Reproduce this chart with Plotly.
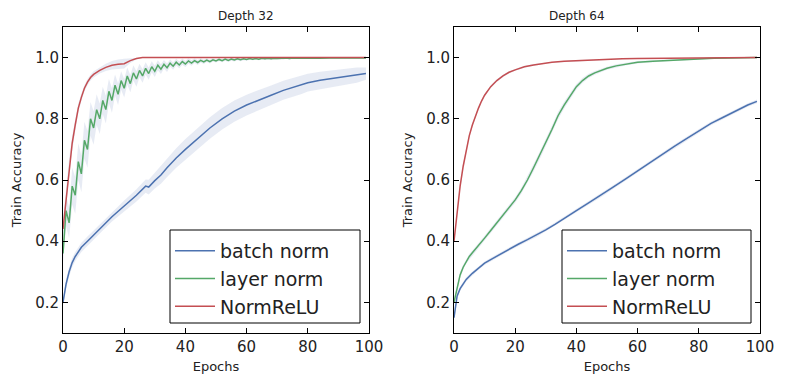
import plotly.graph_objects as go

# ---- Depth 32 (left panel) ----
d32_bn_epochs = [0, 1, 2, 3, 4, 6, 8, 10, 13, 16, 20, 24, 27, 28, 30, 32, 34, 37, 40, 44,
                 48, 52, 56, 60, 64, 68, 72, 76, 78, 80, 84, 88, 92, 96, 99]
d32_bn_mean = [0.20, 0.26, 0.30, 0.33, 0.35, 0.38, 0.40, 0.42, 0.45, 0.48, 0.515, 0.55, 0.58, 0.577,
               0.598, 0.616, 0.64, 0.672, 0.70, 0.735, 0.77, 0.80, 0.825, 0.845, 0.862, 0.877,
               0.893, 0.905, 0.911, 0.918, 0.926, 0.932, 0.937, 0.943, 0.948]
d32_bn_std = [0.01, 0.015, 0.015, 0.015, 0.015, 0.015, 0.015, 0.015, 0.015, 0.016, 0.018, 0.02,
              0.022, 0.024, 0.026, 0.028, 0.03, 0.032, 0.034, 0.035, 0.035, 0.035, 0.035, 0.034,
              0.033, 0.032, 0.031, 0.03, 0.03, 0.029, 0.028, 0.027, 0.026, 0.025, 0.02]

d32_ln_epochs = list(range(100))
d32_ln_mean = [0.36, 0.50, 0.46, 0.58, 0.55, 0.66, 0.62, 0.73, 0.70, 0.80,
               0.77, 0.83, 0.80, 0.86, 0.83, 0.89, 0.86, 0.91, 0.88, 0.925,
               0.90, 0.94, 0.915, 0.95, 0.93, 0.958, 0.94, 0.965, 0.948, 0.97,
               0.955, 0.975, 0.962, 0.978, 0.967, 0.982, 0.972, 0.985, 0.976, 0.987,
               0.979, 0.989, 0.982, 0.99, 0.984, 0.991, 0.986, 0.992, 0.987, 0.993,
               0.989, 0.994, 0.99, 0.995, 0.991, 0.995, 0.992, 0.996, 0.993, 0.996,
               0.994, 0.997, 0.995, 0.997, 0.995, 0.998, 0.996, 0.998, 0.996, 0.998,
               0.997, 0.998, 0.997, 0.999, 0.997, 0.999, 0.998, 0.999, 0.998, 0.999,
               0.998, 0.999, 0.998, 0.999, 0.998, 0.999, 0.999, 0.999, 0.999, 0.999,
               0.999, 0.999, 0.999, 0.999, 0.999, 0.999, 0.999, 0.999, 0.999, 0.999]
d32_ln_std = [0.03, 0.05, 0.05, 0.06, 0.06, 0.06, 0.06, 0.06, 0.06, 0.055,
              0.055, 0.05, 0.05, 0.045, 0.045, 0.04, 0.04, 0.035, 0.035, 0.03,
              0.03, 0.028, 0.028, 0.025, 0.025, 0.022, 0.022, 0.02, 0.02, 0.018,
              0.018, 0.016, 0.016, 0.014, 0.014, 0.012, 0.012, 0.011, 0.011, 0.01,
              0.01, 0.009, 0.009, 0.008, 0.008, 0.007, 0.007, 0.006, 0.006, 0.006,
              0.005, 0.005, 0.005, 0.005, 0.005, 0.005, 0.005, 0.005, 0.005, 0.005,
              0.004, 0.004, 0.004, 0.004, 0.004, 0.004, 0.004, 0.004, 0.004, 0.004,
              0.003, 0.003, 0.003, 0.003, 0.003, 0.003, 0.003, 0.003, 0.003, 0.003,
              0.003, 0.003, 0.003, 0.003, 0.003, 0.003, 0.002, 0.002, 0.002, 0.002,
              0.002, 0.002, 0.002, 0.002, 0.002, 0.002, 0.002, 0.002, 0.002, 0.002]

d32_nr_epochs = [0, 1, 2, 3, 4, 5, 6, 7, 8, 9, 10, 12, 14, 16, 18, 20, 22, 24, 26, 30, 40, 60, 80, 99]
d32_nr_mean = [0.44, 0.54, 0.64, 0.72, 0.78, 0.835, 0.87, 0.90, 0.92, 0.935, 0.945, 0.958, 0.968,
               0.975, 0.978, 0.98, 0.99, 0.997, 1.0, 1.0, 1.0, 1.0, 1.0, 1.0]
d32_nr_std = [0.03, 0.03, 0.03, 0.025, 0.02, 0.015, 0.012, 0.01, 0.01, 0.01, 0.01, 0.01, 0.012,
              0.014, 0.016, 0.016, 0.008, 0.003, 0.0, 0.0, 0.0, 0.0, 0.0, 0.0]

# ---- Depth 64 (right panel) ----
d64_bn_epochs = [0, 1, 2, 3, 4, 6, 8, 10, 12, 15, 18, 21, 24, 27, 30, 33, 36, 40, 44, 48,
                 52, 56, 60, 64, 68, 72, 76, 80, 84, 88, 92, 96, 99]
d64_bn_mean = [0.15, 0.22, 0.245, 0.26, 0.275, 0.295, 0.313, 0.328, 0.34, 0.357, 0.374, 0.39,
               0.405, 0.42, 0.437, 0.455, 0.475, 0.50, 0.525, 0.55, 0.577, 0.603, 0.63, 0.657,
               0.683, 0.71, 0.735, 0.76, 0.785, 0.805, 0.825, 0.845, 0.857]
d64_bn_std = [0.01, 0.008, 0.007, 0.007, 0.007, 0.006, 0.006, 0.006, 0.006, 0.006, 0.006, 0.006,
              0.006, 0.006, 0.006, 0.006, 0.006, 0.006, 0.006, 0.006, 0.006, 0.006, 0.006, 0.006,
              0.006, 0.006, 0.006, 0.006, 0.006, 0.006, 0.006, 0.006, 0.006]

d64_ln_epochs = [0, 1, 2, 3, 4, 5, 6, 8, 10, 12, 14, 16, 18, 20, 22, 24, 26, 28, 30, 32, 34,
                 36, 38, 40, 42, 44, 46, 48, 50, 53, 56, 60, 65, 70, 75, 80, 85, 90, 95, 99]
d64_ln_mean = [0.20, 0.25, 0.29, 0.315, 0.335, 0.35, 0.362, 0.385, 0.41, 0.435, 0.46, 0.485,
               0.51, 0.535, 0.565, 0.60, 0.64, 0.68, 0.72, 0.765, 0.81, 0.845, 0.875, 0.905,
               0.925, 0.94, 0.95, 0.958, 0.965, 0.973, 0.978, 0.985, 0.988, 0.991, 0.994,
               0.996, 0.998, 0.999, 1.0, 1.0]
d64_ln_std = [0.01, 0.01, 0.01, 0.008, 0.008, 0.008, 0.008, 0.008, 0.008, 0.008, 0.008, 0.008,
              0.008, 0.009, 0.01, 0.011, 0.012, 0.012, 0.012, 0.012, 0.012, 0.011, 0.01, 0.009,
              0.008, 0.007, 0.006, 0.006, 0.005, 0.005, 0.004, 0.004, 0.003, 0.003, 0.003,
              0.002, 0.002, 0.002, 0.001, 0.001]

d64_nr_epochs = [0, 1, 2, 3, 4, 5, 6, 7, 8, 9, 10, 12, 14, 16, 18, 20, 23, 26, 29, 32, 36, 40,
                 45, 50, 55, 60, 70, 80, 90, 99]
d64_nr_mean = [0.40, 0.50, 0.58, 0.645, 0.70, 0.745, 0.78, 0.81, 0.835, 0.858, 0.877, 0.905,
               0.925, 0.94, 0.952, 0.96, 0.97, 0.976, 0.981, 0.985, 0.988, 0.99, 0.992, 0.994,
               0.996, 0.997, 0.998, 0.999, 1.0, 1.0]
d64_nr_std = [0.01, 0.01, 0.01, 0.008, 0.008, 0.007, 0.006, 0.006, 0.005, 0.005, 0.005, 0.004,
              0.004, 0.004, 0.003, 0.003, 0.003, 0.003, 0.002, 0.002, 0.002, 0.002, 0.002, 0.002,
              0.001, 0.001, 0.001, 0.001, 0.0, 0.0]

names = ['batch norm', 'layer norm', 'NormReLU']
colors = ['#4C72B0', '#55A868', '#C44E52']
band_color = 'rgba(180,192,222,0.32)'

panels = [
    ('x', 'y', 'legend', [(d32_bn_epochs, d32_bn_mean, d32_bn_std),
                          (d32_ln_epochs, d32_ln_mean, d32_ln_std),
                          (d32_nr_epochs, d32_nr_mean, d32_nr_std)]),
    ('x2', 'y2', 'legend2', [(d64_bn_epochs, d64_bn_mean, d64_bn_std),
                             (d64_ln_epochs, d64_ln_mean, d64_ln_std),
                             (d64_nr_epochs, d64_nr_mean, d64_nr_std)]),
]

fig = go.Figure()

for xa, ya, leg, series in panels:
    # shaded bands first so the lines sit on top
    for ep, m, s in series:
        upper = [a + b for a, b in zip(m, s)]
        lower = [a - b for a, b in zip(m, s)]
        fig.add_trace(go.Scatter(x=ep + ep[::-1], y=upper + lower[::-1], fill='toself',
                                 fillcolor=band_color, line=dict(width=0), mode='lines',
                                 hoverinfo='skip', showlegend=False, xaxis=xa, yaxis=ya))
    for (ep, m, s), name, col in zip(series, names, colors):
        fig.add_trace(go.Scatter(x=ep, y=m, mode='lines', name=name,
                                 line=dict(color=col, width=1.5),
                                 xaxis=xa, yaxis=ya, legend=leg))

# the page body has an 8px margin, so the figure is sized to fit inside it
OFF = 8
W, H = 785 - 2 * OFF, 384 - 2 * OFF


def px(x):
    return (x - OFF) / W


def py(y):
    return 1 - (y - OFF) / H


axis_style = dict(showline=True, linecolor='black', linewidth=1, mirror='allticks',
                  ticks='inside', ticklen=5, tickcolor='black', showgrid=False,
                  zeroline=False, automargin=False, tickfont=dict(size=15, color='#222'))

# legend text sits on a hand-drawn box (shape) so the frame can be a bit wider
legend_style = dict(bgcolor='rgba(0,0,0,0)', borderwidth=0,
                    font=dict(size=19, color='#222'), itemwidth=40,
                    xanchor='left', yanchor='bottom')

fig.update_layout(
    width=W, height=H,
    margin=dict(l=0, r=0, t=0, b=0),
    paper_bgcolor='white', plot_bgcolor='white',
    font=dict(family='DejaVu Sans', color='#222'),
    xaxis=dict(domain=[px(63), px(369)], range=[0, 100], dtick=20, anchor='y',
               title=dict(text='Epochs', font=dict(size=13), standoff=6), **axis_style),
    yaxis=dict(domain=[py(333), py(27)], range=[0.1, 1.1], tickvals=[0.2, 0.4, 0.6, 0.8, 1.0],
               tickformat='.1f', anchor='x',
               title=dict(text='Train Accuracy', font=dict(size=13), standoff=10), **axis_style),
    xaxis2=dict(domain=[px(454), px(760)], range=[0, 100], dtick=20, anchor='y2',
                title=dict(text='Epochs', font=dict(size=13), standoff=6), **axis_style),
    yaxis2=dict(domain=[py(333), py(27)], range=[0.1, 1.1], tickvals=[0.2, 0.4, 0.6, 0.8, 1.0],
                tickformat='.1f', anchor='x2',
                title=dict(text='Train Accuracy', font=dict(size=13), standoff=10), **axis_style),
    legend=dict(x=px(170), y=py(326), **legend_style),
    legend2=dict(x=px(562), y=py(326), **legend_style),
    shapes=[
        dict(type='rect', xref='paper', yref='paper', layer='above', fillcolor='white',
             line=dict(color='black', width=1), x0=px(170), x1=px(360), y0=py(323), y1=py(230)),
        dict(type='rect', xref='paper', yref='paper', layer='above', fillcolor='white',
             line=dict(color='black', width=1), x0=px(562), x1=px(751), y0=py(323), y1=py(230)),
    ],
    annotations=[
        dict(text='Depth 32', x=px((63 + 369) / 2), y=py(16), xref='paper', yref='paper',
             yanchor='middle', showarrow=False, font=dict(size=12, color='#222')),
        dict(text='Depth 64', x=px((454 + 760) / 2), y=py(16), xref='paper', yref='paper',
             yanchor='middle', showarrow=False, font=dict(size=12, color='#222')),
    ],
)

fig.write_html('out.html')
